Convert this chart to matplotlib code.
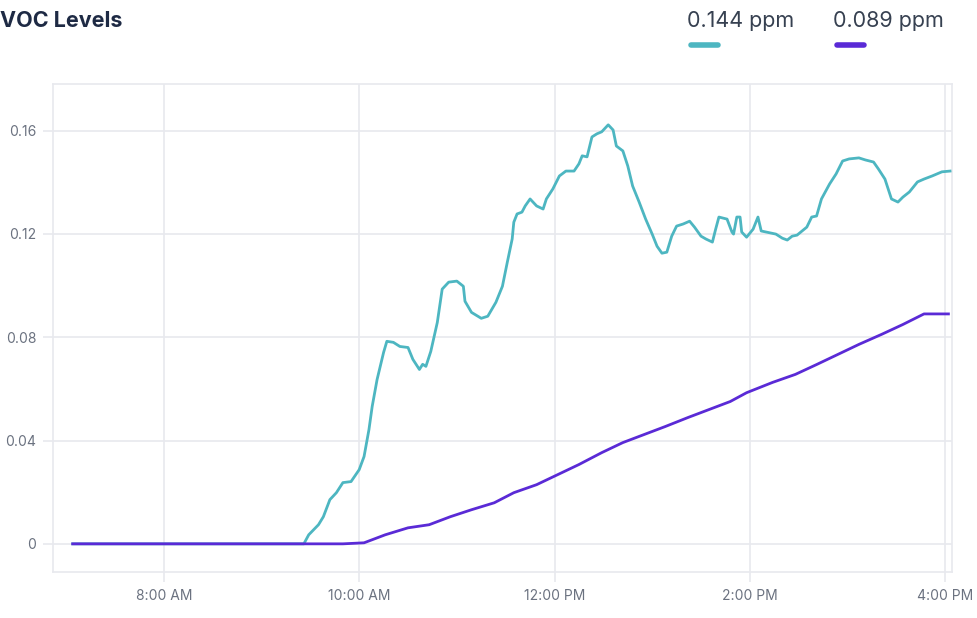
import matplotlib
matplotlib.use("Agg")
import matplotlib.pyplot as plt

# teal series (current reading)
teal_times = ["7:04", "9:26", "9:29", "9:35", "9:38", "9:42", "9:46", "9:50", "9:55", "10:00",
              "10:03", "10:06", "10:08", "10:11", "10:15", "10:17", "10:21", "10:25", "10:30", "10:33",
              "10:37", "10:39", "10:41", "10:44", "10:48", "10:51", "10:55", "11:00", "11:04", "11:05",
              "11:09", "11:15", "11:19", "11:24", "11:28", "11:31", "11:34", "11:35", "11:37", "11:40",
              "11:42", "11:45", "11:49", "11:53", "11:55", "11:59", "12:03", "12:07", "12:12", "12:15",
              "12:17", "12:20", "12:23", "12:26", "12:29", "12:33", "12:36", "12:38", "12:42", "12:45",
              "12:48", "12:52", "12:56", "13:00", "13:03", "13:06", "13:09", "13:12", "13:15", "13:19",
              "13:23", "13:26", "13:30", "13:33", "13:37", "13:39", "13:41", "13:46", "13:49", "13:50",
              "13:52", "13:54", "13:55", "13:58", "14:02", "14:05", "14:07", "14:10", "14:16", "14:20",
              "14:23", "14:26", "14:29", "14:35", "14:38", "14:41", "14:44", "14:49", "14:53", "14:57",
              "15:01", "15:07", "15:11", "15:16", "15:19", "15:23", "15:27", "15:31", "15:34", "15:38",
              "15:43", "15:47", "15:52", "15:58", "16:03"]
teal_vals = [0.0, 0.0, 0.0035, 0.0074, 0.0105, 0.0171, 0.0198, 0.0237, 0.0241, 0.0287,
             0.0338, 0.0442, 0.0532, 0.0636, 0.0741, 0.0784, 0.0780, 0.0764, 0.0760, 0.0714,
             0.0675, 0.0695, 0.0687, 0.0745, 0.0857, 0.0986, 0.1013, 0.1017, 0.0997, 0.0939,
             0.0896, 0.0873, 0.0881, 0.0935, 0.0997, 0.1090, 0.1180, 0.1245, 0.1277, 0.1284,
             0.1308, 0.1335, 0.1308, 0.1296, 0.1335, 0.1374, 0.1424, 0.1443, 0.1443, 0.1471,
             0.1502, 0.1498, 0.1575, 0.1587, 0.1595, 0.1622, 0.1602, 0.1540, 0.1521, 0.1463,
             0.1385, 0.1323, 0.1257, 0.1199, 0.1152, 0.1125, 0.1129, 0.1191, 0.1230, 0.1238,
             0.1249, 0.1226, 0.1191, 0.1180, 0.1168, 0.1218, 0.1265, 0.1257, 0.1207, 0.1199,
             0.1265, 0.1265, 0.1207, 0.1187, 0.1218, 0.1265, 0.1211, 0.1207, 0.1199, 0.1183,
             0.1176, 0.1191, 0.1195, 0.1226, 0.1265, 0.1269, 0.1335, 0.1393, 0.1432, 0.1482,
             0.1490, 0.1494, 0.1486, 0.1478, 0.1451, 0.1412, 0.1335, 0.1323, 0.1342, 0.1362,
             0.1401, 0.1412, 0.1424, 0.1440, 0.1443]

# purple series (average)
purple_times = ["7:04", "9:50", "10:03", "10:16", "10:30", "10:43", "10:56", "11:09", "11:23", "11:35",
                "11:49", "12:02", "12:15", "12:29", "12:42", "12:55", "13:08", "13:22", "13:35", "13:48",
                "13:58", "14:14", "14:28", "14:41", "14:54", "15:07", "15:21", "15:34", "15:47", "16:02"]
purple_vals = [0.0, 0.0, 0.0004, 0.0035, 0.0062, 0.0074, 0.0105, 0.0132, 0.0159, 0.0198,
               0.0229, 0.0268, 0.0307, 0.0353, 0.0392, 0.0423, 0.0454, 0.0489, 0.0520, 0.0551,
               0.0585, 0.0625, 0.0656, 0.0694, 0.0733, 0.0772, 0.0811, 0.0849, 0.0890, 0.0890]

x_ticks = [8, 10, 12, 14, 16]
x_labels = ["8:00 AM", "10:00 AM", "12:00 PM", "2:00 PM", "4:00 PM"]
y_ticks = [0, 0.04, 0.08, 0.12, 0.16]
y_labels = ["0", "0.04", "0.08", "0.12", "0.16"]
legend_labels = ["0.144 ppm", "0.089 ppm"]

TEAL = "#4db6c1"
PURPLE = "#5a2ad6"
GRID = "#e8e9ee"


def to_hours(t):
    h, m = t.split(":")
    return int(h) + int(m) / 60


plt.rcParams["font.family"] = ["Inter", "DejaVu Sans"]

W, H = 977, 618
fig = plt.figure(figsize=(W / 100, H / 100), dpi=100)
ax = fig.add_axes([53 / W, 1 - 572 / H, (952 - 53) / W, (572 - 84) / H])

ax.plot([to_hours(t) for t in teal_times], teal_vals, color=TEAL, lw=2.0, zorder=3)
ax.plot([to_hours(t) for t in purple_times], purple_vals, color=PURPLE, lw=2.0, zorder=3)

ax.set_xlim(6.865, 16.07)
ax.set_ylim(-0.0109, 0.178)
ax.set_xticks(x_ticks)
ax.set_xticklabels(x_labels)
ax.set_yticks(y_ticks)
ax.set_yticklabels(y_labels)
ax.grid(True, color=GRID, lw=1.2)
ax.set_axisbelow(True)
for s in ax.spines.values():
    s.set_color(GRID)
    s.set_linewidth(1.2)
ax.tick_params(axis="both", colors=GRID, length=7, width=1.2, labelsize=10,
               labelcolor="#6b7280", pad=5)

# header
fig.text(0.0, 1 - 21 / H, "VOC Levels", fontsize=15.5, fontweight="bold",
         color="#1e2a44", va="center", ha="left")

for x0, label, col in [(687, legend_labels[0], TEAL), (833, legend_labels[1], PURPLE)]:
    fig.text(x0 / W, 1 - 21 / H, label, fontsize=15.5, color="#374151",
             va="center", ha="left")
    fig.add_artist(plt.Line2D([(x0 + 4) / W, (x0 + 31) / W], [1 - 45 / H, 1 - 45 / H],
                              color=col, lw=4, solid_capstyle="round"))

fig.savefig("out.png", dpi=100)
